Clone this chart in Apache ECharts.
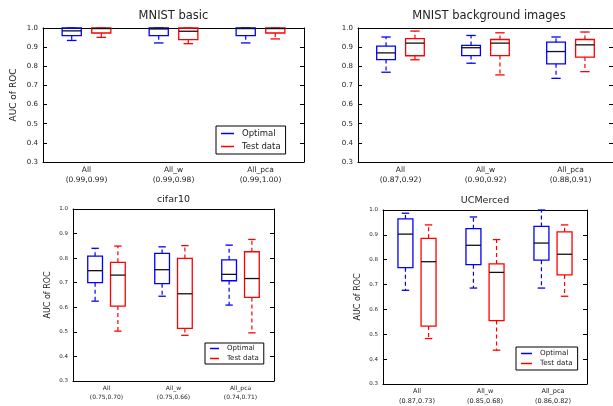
<!DOCTYPE html>
<html>
<head>
<meta charset="utf-8">
<script src="https://cdn.jsdelivr.net/npm/echarts@6/dist/echarts.min.js"></script>
<style>
  html, body { margin: 0; padding: 0; background: #fff; }
  #chart { width: 613px; height: 406px; }
</style>
</head>
<body>
<div id="chart"></div>
<script>
// box stats per category: [min, q1, median, q3, max]
const categories = ['All', 'All_w', 'All_pca'];

const mnistBasicOptimal = [[0.935, 0.96, 0.985, 1.0, 1.0], [0.922, 0.96, 0.995, 1.0, 1.0], [0.922, 0.96, 0.997, 1.0, 1.0]];
const mnistBasicTest = [[0.951, 0.974, 0.997, 1.0, 1.0], [0.918, 0.939, 0.983, 1.0, 1.0], [0.943, 0.974, 0.997, 1.0, 1.0]];
const mnistBasicMeans = ['(0.99,0.99)', '(0.99,0.98)', '(0.99,1.00)'];

const mnistBgOptimal = [[0.769, 0.835, 0.87, 0.905, 0.953], [0.816, 0.856, 0.897, 0.909, 0.961], [0.737, 0.813, 0.877, 0.926, 0.953]];
const mnistBgTest = [[0.834, 0.855, 0.921, 0.944, 0.984], [0.755, 0.856, 0.921, 0.94, 0.975], [0.772, 0.848, 0.912, 0.94, 0.979]];
const mnistBgMeans = ['(0.87,0.92)', '(0.90,0.92)', '(0.88,0.91)'];

const cifarOptimal = [[0.625, 0.70, 0.749, 0.808, 0.84], [0.645, 0.696, 0.753, 0.819, 0.846], [0.609, 0.708, 0.734, 0.793, 0.853]];
const cifarTest = [[0.503, 0.605, 0.731, 0.783, 0.849], [0.486, 0.514, 0.655, 0.799, 0.851], [0.496, 0.64, 0.717, 0.826, 0.876]];
const cifarMeans = ['(0.75,0.70)', '(0.75,0.66)', '(0.74,0.71)'];

const ucOptimal = [[0.677, 0.768, 0.903, 0.964, 0.987], [0.686, 0.78, 0.858, 0.925, 0.972], [0.686, 0.798, 0.867, 0.934, 1.0]];
const ucTest = [[0.483, 0.533, 0.792, 0.886, 0.94], [0.436, 0.555, 0.749, 0.783, 0.881], [0.653, 0.739, 0.822, 0.912, 0.94]];
const ucMeans = ['(0.87,0.73)', '(0.85,0.68)', '(0.86,0.82)'];

const yMin = 0.3, yMax = 1.0, yStep = 0.1;

const FONT = 'DejaVu Sans';
const TXT = '#222';

// layout of the 4 panels (px)
const panels = [
  { title: 'MNIST basic', opt: mnistBasicOptimal, test: mnistBasicTest, means: mnistBasicMeans,
    grid: { left: 43, top: 28, width: 261, height: 134 }, titleTop: 10, titleSize: 11.5,
    yName: 'AUC of ROC', nameSize: 9, nameGap: 25, tickSize: 7, catSize: 7.5, catLH: 10,
    legend: { left: 216, top: 126, size: 8.5, gap: 4, iw: 13, pad: [3, 5, 3, 5] } },
  { title: 'MNIST background images', opt: mnistBgOptimal, test: mnistBgTest, means: mnistBgMeans,
    grid: { left: 358, top: 28, width: 262, height: 134 }, titleTop: 10, titleSize: 11.5,
    yName: '', nameSize: 9, nameGap: 25, tickSize: 7, catSize: 7.5, catLH: 10,
    legend: null },
  { title: 'cifar10', opt: cifarOptimal, test: cifarTest, means: cifarMeans,
    grid: { left: 73, top: 209, width: 201, height: 172 }, titleTop: 195, titleSize: 9.5,
    yName: 'AUC of ROC', nameSize: 8, nameGap: 21, tickSize: 5.5, catSize: 6, catLH: 9,
    legend: { left: 205, top: 343, size: 7, gap: 3, iw: 9, pad: [2, 5, 2, 5] } },
  { title: 'UCMerced', opt: ucOptimal, test: ucTest, means: ucMeans,
    grid: { left: 383, top: 210, width: 204, height: 176 }, titleTop: 196, titleSize: 9.5,
    yName: 'AUC of ROC', nameSize: 8, nameGap: 21, tickSize: 5.5, catSize: 6.5, catLH: 9.5,
    legend: { left: 516, top: 347, size: 7.2, gap: 3, iw: 11, pad: [3, 5, 3, 5] } }
];

function boxRender(side) {
  return function (params, api) {
    const cat = api.value(0);
    const band = api.size([1, 0])[0];
    const cx = api.coord([cat, api.value(3)])[0] + side * band * 0.17;
    const hw = band * 0.11;
    const py = i => api.coord([cat, api.value(i)])[1];
    const lo = py(1), q1 = py(2), med = py(3), q3 = py(4), hi = py(5);
    const color = api.visual('color');
    const solid = { stroke: color, lineWidth: 1.3, fill: null };
    const dashed = { stroke: color, lineWidth: 1.2, lineDash: [4, 3], fill: null };
    return {
      type: 'group',
      children: [
        { type: 'line', shape: { x1: cx, y1: q3, x2: cx, y2: hi }, style: dashed },
        { type: 'line', shape: { x1: cx, y1: q1, x2: cx, y2: lo }, style: dashed },
        { type: 'line', shape: { x1: cx - hw / 2, y1: hi, x2: cx + hw / 2, y2: hi }, style: solid },
        { type: 'line', shape: { x1: cx - hw / 2, y1: lo, x2: cx + hw / 2, y2: lo }, style: solid },
        { type: 'rect', shape: { x: cx - hw, y: q3, width: hw * 2, height: q1 - q3 }, style: solid },
        { type: 'line', shape: { x1: cx - hw, y1: med, x2: cx + hw, y2: med },
          style: { stroke: '#111', lineWidth: 1.3 } }
      ]
    };
  };
}

const option = {
  animation: false,
  textStyle: { fontFamily: FONT },
  title: [],
  legend: [],
  grid: [],
  xAxis: [],
  yAxis: [],
  series: []
};

panels.forEach(function (p, i) {
  option.grid.push(p.grid);
  option.title.push({
    text: p.title,
    left: p.grid.left + p.grid.width / 2,
    top: p.titleTop,
    textAlign: 'center',
    padding: 0,
    textStyle: { fontFamily: FONT, fontSize: p.titleSize, fontWeight: 'normal', color: TXT }
  });

  const labels = categories.map((c, k) => c + '\n' + p.means[k]);
  const lineStyle = { color: '#000', width: 1 };
  option.xAxis.push({
    type: 'category', gridIndex: i, data: labels, position: 'bottom',
    axisLine: { lineStyle: lineStyle },
    axisTick: { inside: true, alignWithLabel: true, length: 4, lineStyle: lineStyle },
    axisLabel: { fontSize: p.catSize, lineHeight: p.catLH, color: TXT, margin: 3, interval: 0, fontFamily: FONT },
    splitLine: { show: false }
  });
  option.xAxis.push({
    type: 'category', gridIndex: i, data: labels, position: 'top',
    axisLine: { lineStyle: lineStyle },
    axisTick: { inside: true, alignWithLabel: true, length: 4, lineStyle: lineStyle },
    axisLabel: { show: false },
    splitLine: { show: false }
  });
  option.yAxis.push({
    type: 'value', gridIndex: i, min: yMin, max: yMax, interval: yStep, position: 'left',
    name: p.yName, nameLocation: 'middle', nameGap: p.nameGap,
    nameTextStyle: { fontSize: p.nameSize, color: TXT, fontFamily: FONT },
    axisLine: { show: true, lineStyle: lineStyle },
    axisTick: { show: true, inside: true, length: 4, lineStyle: lineStyle },
    axisLabel: { fontSize: p.tickSize, color: TXT, margin: 5, formatter: v => v.toFixed(1), fontFamily: FONT },
    splitLine: { show: false }
  });
  option.yAxis.push({
    type: 'value', gridIndex: i, min: yMin, max: yMax, interval: yStep, position: 'right',
    axisLine: { show: true, lineStyle: lineStyle },
    axisTick: { show: true, inside: true, length: 4, lineStyle: lineStyle },
    axisLabel: { show: false },
    splitLine: { show: false }
  });

  [['Optimal', p.opt, '#0000ff', -1], ['Test data', p.test, '#ff0000', 1]].forEach(function (s) {
    option.series.push({
      name: s[0],
      type: 'custom',
      xAxisIndex: i * 2,
      yAxisIndex: i * 2,
      itemStyle: { color: s[2] },
      encode: { x: 0, y: [1, 2, 3, 4, 5] },
      data: s[1].map((v, k) => [k].concat(v)),
      renderItem: boxRender(s[3]),
      clip: false
    });
  });

  if (p.legend) {
    const L = p.legend;
    option.legend.push({
      data: ['Optimal', 'Test data'],
      orient: 'vertical',
      left: L.left, top: L.top,
      padding: L.pad,
      itemGap: L.gap,
      itemWidth: L.iw, itemHeight: 1.5,
      icon: 'rect',
      selectedMode: false,
      borderColor: '#000', borderWidth: 1, borderRadius: 0,
      backgroundColor: '#fff',
      itemStyle: { borderWidth: 0 },
      textStyle: { fontSize: L.size, color: TXT, fontFamily: FONT, padding: [0, 0, 0, 3] }
    });
  }
});

const chart = echarts.init(document.getElementById('chart'), null, { renderer: 'canvas' });
chart.setOption(option);
window.addEventListener('resize', function () { chart.resize(); });
</script>
</body>
</html>
